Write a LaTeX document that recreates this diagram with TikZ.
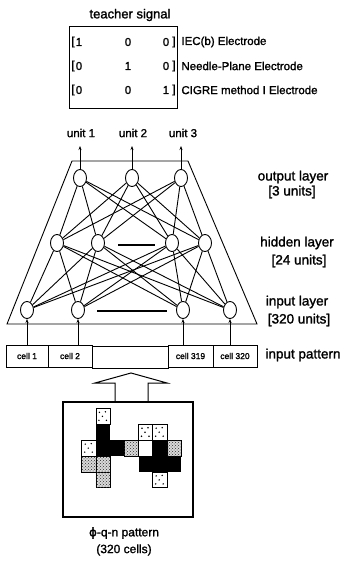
\documentclass[tikz,border=0pt]{standalone}
\usepackage{fontspec}
\setmainfont{Liberation Sans}[FakeBold=1.5]
\newfontfamily\greekfont{DejaVu Sans}[FakeBold=1.5]
\usetikzlibrary{shapes.geometric,arrows.meta,patterns,calc}

\begin{document}
\begin{tikzpicture}[x=1pt,y=-1pt,line width=0.9pt,
  unitnode/.style={draw,ellipse,minimum width=13pt,minimum height=17pt,inner sep=0pt},
  arr/.style={-{Stealth[length=4pt,width=3pt]}},
  lbl/.style={font=\fontsize{13.5}{15}\selectfont,inner sep=0pt},
  mat/.style={font=\fontsize{11.5}{13}\selectfont,inner sep=0pt},
  elec/.style={font=\fontsize{11.5}{13}\selectfont,inner sep=0pt,anchor=west},
  cellbox/.style={draw,minimum height=22pt,inner sep=0pt,font=\fontsize{8.5}{10}\selectfont},
  densecell/.style={fill=gray!30,postaction={pattern=crosshatch dots,pattern color=black!80}},
]
\useasboundingbox (0,0) rectangle (344,561);

% ---- teacher signal ----
\node[font=\fontsize{13}{15}\selectfont,inner sep=0pt] (title) at (130,15) {teacher signal};
\node[draw,minimum width=108pt,minimum height=82pt,inner sep=0pt] (teach) at (123,67) {};
\foreach \y/\a/\b/\c in {42/1/0/0, 66/0/1/0, 90/0/0/1}{
  \node[mat] at (73,\y) {[};
  \node[mat] at (79,\y) {\a};
  \node[mat] at (128,\y) {\b};
  \node[mat] at (166,\y) {\c};
  \node[mat] at (174,\y) {]};
}
\node[elec] (e1) at (181,42) {IEC(b) Electrode};
\node[elec] (e2) at (181,66) {Needle-Plane Electrode};
\node[elec] (e3) at (181,90) {CIGRE method I Electrode};

% ---- network frame ----
\draw (72,161) -- (188,161) -- (257,324) -- (7,324) -- cycle;

% output layer
\node[unitnode] (o1) at (80,178) {};
\node[unitnode] (o2) at (132,178) {};
\node[unitnode] (o3) at (181,178) {};
% hidden layer
\node[unitnode] (h1) at (57,243) {};
\node[unitnode] (h2) at (98,243) {};
\node[unitnode] (h3) at (172,243) {};
\node[unitnode] (h4) at (205,243) {};
% input layer
\node[unitnode] (i1) at (27,310) {};
\node[unitnode] (i2) at (78,310) {};
\node[unitnode] (i3) at (183,310) {};
\node[unitnode] (i4) at (230,310) {};

% ellipsis bars
\coordinate (hd1) at (118,245); \coordinate (hd2) at (155,245);
\draw[line width=1.4pt] (hd1) -- (hd2);
\coordinate (id1) at (97,311); \coordinate (id2) at (167,311);
\draw[line width=1.4pt] (id1) -- (id2);

% connections
\foreach \o in {o1,o2,o3}{\foreach \h in {h1,h2,h3,h4}{\draw (\o) -- (\h);}}
\foreach \h in {h1,h2,h3,h4}{\foreach \i in {i1,i2,i3,i4}{\draw (\h) -- (\i);}}

% output labels
\node[font=\fontsize{11.5}{13}\selectfont,inner sep=0pt] (u1) at (81,133) {unit 1};
\node[font=\fontsize{11.5}{13}\selectfont,inner sep=0pt] (u2) at (133,133) {unit 2};
\node[font=\fontsize{11.5}{13}\selectfont,inner sep=0pt] (u3) at (183,133) {unit 3};
\coordinate (a1) at (80,146); \coordinate (a2) at (132,146); \coordinate (a3) at (181,146);
\draw[arr] (o1) -- (a1);
\draw[arr] (o2) -- (a2);
\draw[arr] (o3) -- (a3);

% layer labels
\node[lbl] (ol) at (293,177) {output layer};
\node[lbl] (ou) at (292,192) {[3 units]};
\node[lbl] (hl) at (297,243) {hidden layer};
\node[lbl] (hu) at (299,261) {[24 units]};
\node[lbl] (il) at (297,302) {input layer};
\node[lbl] (iu) at (299,320) {[320 units]};

% ---- input pattern strip ----
\node[cellbox,minimum width=42pt] (c1) at (27,356) {cell 1};
\node[cellbox,minimum width=44pt] (c2) at (70,356) {cell 2};
\node[cellbox,minimum width=76pt] (cm) at (130,357) {};
\node[cellbox,minimum width=45pt] (c319) at (190.5,356) {cell 319};
\node[cellbox,minimum width=44pt] (c320) at (235,356) {cell 320};
\node[lbl,anchor=west] (ip) at (265,355) {input pattern};

\draw[arr] (i1 |- c1.north) -- (i1);
\draw[arr] (i2 |- c2.north) -- (i2);
\draw[arr] (i3 |- c319.north) -- (i3);
\draw[arr] (i4 |- c320.north) -- (i4);

% ---- hollow arrow ----
\draw[line width=1pt] (115,402) -- (115,383) -- (95,383) -- (131,373) -- (167,383) -- (148,383) -- (148,402);

% ---- phi-q-n pattern ----
\node[draw,line width=1.8pt,minimum width=130pt,minimum height=115pt,inner sep=0pt] (pat) at (128,459.5) {};
\def\cw{14.2}\def\ch{15.9}
\def\cx{81.7}\def\cy{408.3}
% black cells
\foreach \i/\j in {1/1,1/2,2/2,5/2,4/3,5/3,6/3}{
  \fill (\cx+\i*\cw,\cy+\j*\ch) rectangle ++(\cw,\ch);
}
% densely dotted cells
\foreach \i/\j in {3/2,6/2,0/3,1/3,1/4}{
  \draw[densecell,line width=0.7pt] (\cx+\i*\cw,\cy+\j*\ch) rectangle ++(\cw,\ch);
}
% sparsely dotted cells
\foreach \i/\j in {1/0,4/1,5/1,0/2,5/4}{
  \draw[fill=white,line width=0.7pt] (\cx+\i*\cw,\cy+\j*\ch) rectangle ++(\cw,\ch);
  \foreach \dx/\dy in {3.5/4,9.5/3.5,6.5/8,3/12,10.5/12}{
    \fill (\cx+\i*\cw+\dx,\cy+\j*\ch+\dy) circle (0.8);
  }
}
% empty cell
\draw[fill=white,line width=0.7pt] (\cx+4*\cw,\cy+2*\ch) rectangle ++(\cw,\ch);

\node[font=\fontsize{12}{14}\selectfont,inner sep=0pt] (cap1) at (124,533) {{\greekfont ϕ}-q-n pattern};
\node[font=\fontsize{12}{14}\selectfont,inner sep=0pt] (cap2) at (124,550) {(320 cells)};
\end{tikzpicture}
\end{document}
